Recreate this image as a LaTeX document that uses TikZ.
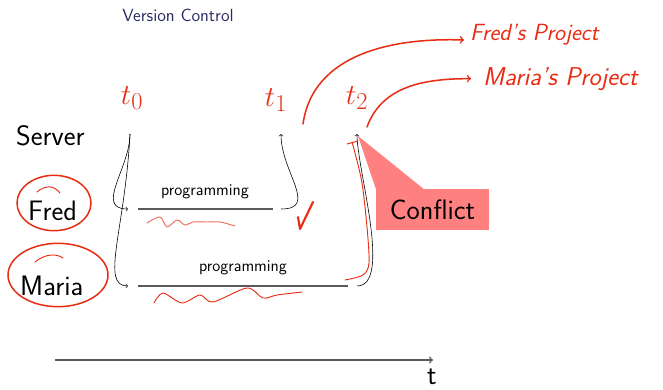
\documentclass[tikz,border=0pt]{standalone}
\usepackage{tikz}
\usetikzlibrary{calc}
\definecolor{penred}{RGB}{232,45,20}
\definecolor{conflictpink}{RGB}{255,128,128}
\definecolor{titleblue}{RGB}{40,40,100}
\definecolor{linegray}{RGB}{90,90,90}

\begin{document}
\begin{tikzpicture}[x=0.03cm, y=-0.03cm,
    actor/.style={font=\sffamily\fontsize{24}{28}\selectfont, inner sep=0pt},
    small/.style={font=\sffamily\fontsize{14}{16}\selectfont, inner sep=0pt},
    flow/.style={->, black, line width=0.5pt},
    track/.style={draw=linegray, line width=1pt},
    pen/.style={draw=penred, line width=1.3pt, line cap=round, line join=round},
    thinpen/.style={pen, line width=0.8pt},
    note/.style={text=penred, font=\sffamily\itshape\fontsize{20}{22}\selectfont, inner sep=0pt}]
    \useasboundingbox (0,0) rectangle (663,390);

    % Title
    \node[small, font=\sffamily\fontsize{15}{17}\selectfont, text=titleblue] (title) at (178,15) {Version Control};

    % Actors
    \node[actor, anchor=base west] (server) at (16,145) {Server};
    \node[actor, anchor=base west] (fred) at (28,220) {Fred};
    \node[actor, anchor=base west] (maria) at (20,295) {Maria};

    % Points on the time line
    \coordinate (s0) at (130,134);
    \coordinate (fredin) at (128,209);
    \coordinate (fredstart) at (138,209);
    \coordinate (fredend) at (273,209);
    \coordinate (fredout) at (281,209);
    \coordinate (fredtip) at (281,134);
    \coordinate (mariain) at (128,286);
    \coordinate (mariastart) at (138,286);
    \coordinate (mariaend) at (348,286);
    \coordinate (mariaout) at (357,286);
    \coordinate (mariatip) at (357,134);

    % Conflict box
    \node[actor, fill=conflictpink, minimum width=3.39cm, minimum height=1.23cm] (conflict) at (432.5,209.5) {Conflict};
    \fill[conflictpink] (conflict.north west) -- ($(mariatip)+(1,2)$)
        -- ($(conflict.north west)!0.42!(conflict.north east)$) -- cycle;

    % Checkout
    \draw[flow] (s0) to[out=-90, in=180, looseness=1.15] (fredin);
    \draw[flow] (s0) .. controls (125,230) and (100,286) .. (mariain);

    % Programming
    \draw[track] (fredstart) -- (fredend);
    \draw[track] (mariastart) -- (mariaend);
    \node[small] (fredprog) at (205,192) {programming};
    \node[small] (mariaprog) at (243,268) {programming};

    % Commit
    \draw[flow] (fredout) to[out=0, in=-90, looseness=1.3] (fredtip);
    \draw[flow] (mariaout) to[out=0, in=-90, looseness=0.6] (mariatip);

    % Time axis
    \coordinate (tstart) at (55,360);
    \coordinate (tend) at (433,360);
    \draw[->, draw=linegray, line width=1.2pt] (tstart) -- (tend);
    \node[actor, anchor=base] (tlabel) at (432,384) {t};

    % Handwritten notes
    \node[note, font=\fontsize{30}{32}\selectfont] (t0) at (132,98) {$t_0$};
    \node[note, font=\fontsize{30}{32}\selectfont] (t1) at (276,100) {$t_1$};
    \node[note, font=\fontsize{30}{32}\selectfont] (t2) at (357,98) {$t_2$};
    \node[note, anchor=base west] (fp) at (470,40) {Fred's Project};
    \node[note, anchor=base west, font=\sffamily\itshape\fontsize{22}{24}\selectfont] (mp) at (483,85) {Maria's Project};
    \coordinate (fpfrom) at (303,124);
    \coordinate (mpfrom) at (367,127);
    \draw[pen, ->] (fpfrom) to[out=82, in=178] ($(fp.base west)+(-6,0)$);
    \draw[pen, ->] (mpfrom) to[out=70, in=180] ($(mp.west)+(-12,0)$);

    % Circles round the names
    \draw[pen] (54,203) ellipse [x radius=1.11cm, y radius=0.83cm];
    \draw[thinpen] (37,192) .. controls (45,185) and (54,185) .. (60,193);
    \draw[pen] (58,275) ellipse [x radius=1.5cm, y radius=0.95cm];
    \draw[thinpen] (35,262) .. controls (45,254) and (56,253) .. (63,258);

    % Squiggles and marks
    \draw[thinpen, draw=penred!70] plot[smooth] coordinates {(147,223) (160,217) (167,227) (177,220) (185,225) (193,222) (207,222) (220,222) (235,226)};
    \draw[thinpen] plot[smooth] coordinates {(154,303) (163,293) (182,303) (200,295) (213,302) (247,288) (263,298) (277,295) (302,292)};
    \draw[pen, line width=1.8pt] (298,217) -- (300,229) -- (313,202);
    \draw[thinpen] plot[smooth] coordinates {(345,280) (363,275) (369,263) (367,227) (362,183) (355,153) (352,142)};
    \draw[thinpen] (347,144) -- (358,141);
\end{tikzpicture}
\end{document}
